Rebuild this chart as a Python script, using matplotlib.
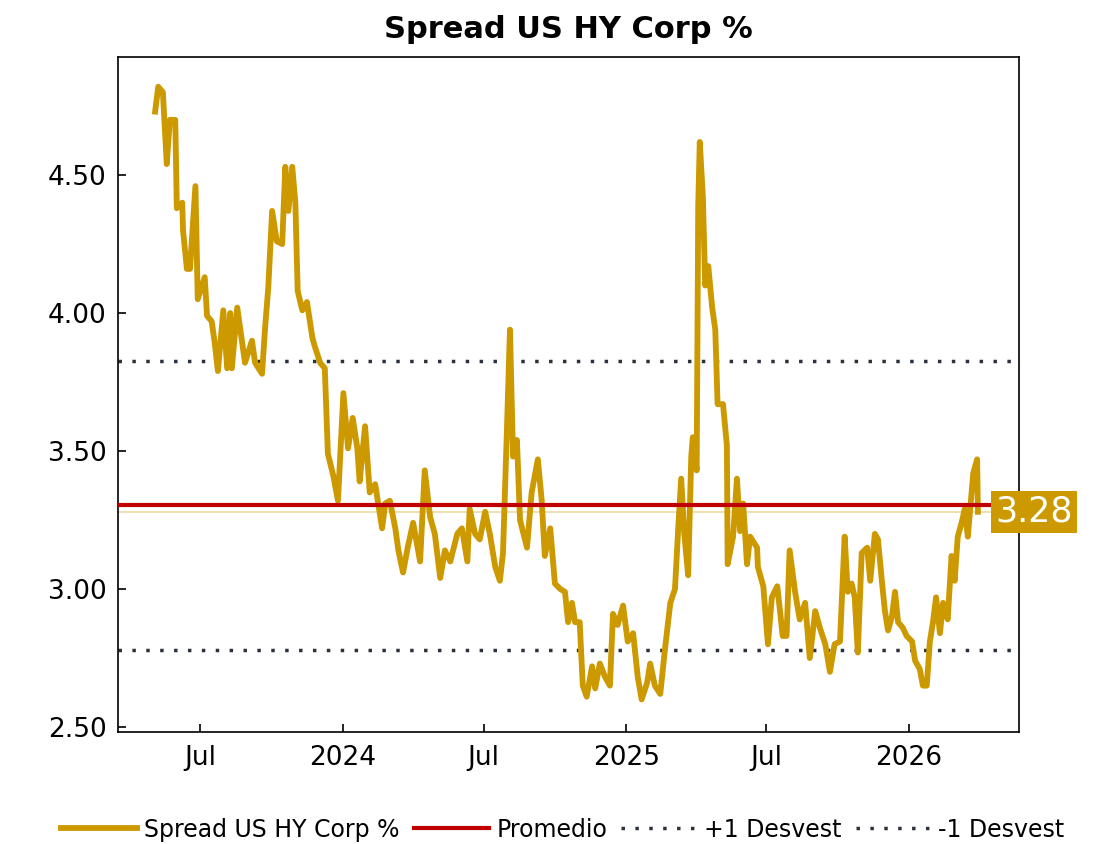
import matplotlib
matplotlib.use("Agg")
import matplotlib.pyplot as plt
import matplotlib.dates as mdates
import pandas as pd

# spread readings (date, %)
dates = [
    "2023-05-04", "2023-05-08", "2023-05-14", "2023-05-19", "2023-05-23", "2023-05-30",
    "2023-06-01", "2023-06-08", "2023-06-09", "2023-06-14", "2023-06-18", "2023-06-25",
    "2023-06-28", "2023-07-07", "2023-07-10", "2023-07-16", "2023-07-20", "2023-07-24",
    "2023-07-31", "2023-08-05", "2023-08-09", "2023-08-11", "2023-08-18", "2023-08-24",
    "2023-08-28", "2023-09-06", "2023-09-10", "2023-09-19", "2023-09-23", "2023-09-27",
    "2023-10-02", "2023-10-08", "2023-10-15", "2023-10-19", "2023-10-23", "2023-10-28",
    "2023-11-01", "2023-11-04", "2023-11-10", "2023-11-16", "2023-11-23", "2023-11-26",
    "2023-12-03", "2023-12-09", "2023-12-13", "2023-12-20", "2023-12-26", "2024-01-02",
    "2024-01-08", "2024-01-14", "2024-01-20", "2024-01-23", "2024-01-30", "2024-02-05",
    "2024-02-12", "2024-02-21", "2024-02-25", "2024-03-02", "2024-03-09", "2024-03-13",
    "2024-03-19", "2024-03-25", "2024-04-01", "2024-04-10", "2024-04-16", "2024-04-23",
    "2024-04-29", "2024-05-06", "2024-05-12", "2024-05-19", "2024-05-28", "2024-06-03",
    "2024-06-10", "2024-06-13", "2024-06-20", "2024-06-26", "2024-07-03", "2024-07-09",
    "2024-07-16", "2024-07-22", "2024-07-26", "2024-07-31", "2024-08-04", "2024-08-08",
    "2024-08-13", "2024-08-17", "2024-08-26", "2024-09-01", "2024-09-09", "2024-09-14",
    "2024-09-18", "2024-09-25", "2024-10-01", "2024-10-08", "2024-10-14", "2024-10-18",
    "2024-10-23", "2024-10-27", "2024-11-02", "2024-11-06", "2024-11-11", "2024-11-18",
    "2024-11-22", "2024-11-28", "2024-12-05", "2024-12-11", "2024-12-15", "2024-12-21",
    "2024-12-28", "2025-01-03", "2025-01-10", "2025-01-16", "2025-01-21", "2025-01-28",
    "2025-02-01", "2025-02-07", "2025-02-14", "2025-02-20", "2025-02-27", "2025-03-05",
    "2025-03-09", "2025-03-13", "2025-03-17", "2025-03-22", "2025-03-26", "2025-03-28",
    "2025-04-02", "2025-04-04", "2025-04-06", "2025-04-10", "2025-04-13", "2025-04-17",
    "2025-04-22", "2025-04-26", "2025-04-29", "2025-05-06", "2025-05-11", "2025-05-12",
    "2025-05-19", "2025-05-24", "2025-05-28", "2025-06-01", "2025-06-06", "2025-06-10",
    "2025-06-19", "2025-06-20", "2025-06-27", "2025-07-03", "2025-07-08", "2025-07-15",
    "2025-07-19", "2025-07-22", "2025-07-27", "2025-07-31", "2025-08-07", "2025-08-13",
    "2025-08-20", "2025-08-26", "2025-09-02", "2025-09-08", "2025-09-15", "2025-09-21",
    "2025-09-27", "2025-10-04", "2025-10-10", "2025-10-14", "2025-10-19", "2025-10-23",
    "2025-10-27", "2025-11-01", "2025-11-08", "2025-11-12", "2025-11-18", "2025-11-22",
    "2025-11-27", "2025-12-01", "2025-12-05", "2025-12-10", "2025-12-14", "2025-12-18",
    "2025-12-24", "2025-12-29", "2026-01-05", "2026-01-09", "2026-01-15", "2026-01-19",
    "2026-01-24", "2026-01-28", "2026-02-01", "2026-02-05", "2026-02-10", "2026-02-14",
    "2026-02-20", "2026-02-25", "2026-03-01", "2026-03-05", "2026-03-10", "2026-03-14",
    "2026-03-18", "2026-03-25", "2026-03-30", "2026-03-31",
]
spread = [
    4.73, 4.82, 4.80, 4.54, 4.70, 4.70,
    4.38, 4.40, 4.30, 4.16, 4.16, 4.46,
    4.05, 4.13, 3.99, 3.97, 3.89, 3.79,
    4.01, 3.80, 4.00, 3.80, 4.02, 3.90,
    3.82, 3.90, 3.82, 3.78, 3.95, 4.09,
    4.37, 4.26, 4.25, 4.53, 4.37, 4.53,
    4.40, 4.08, 4.01, 4.04, 3.91, 3.88,
    3.82, 3.80, 3.49, 3.41, 3.32, 3.71,
    3.51, 3.62, 3.51, 3.39, 3.59, 3.35,
    3.38, 3.22, 3.31, 3.32, 3.22, 3.14,
    3.06, 3.15, 3.24, 3.10, 3.43, 3.26,
    3.20, 3.04, 3.14, 3.10, 3.20, 3.22,
    3.10, 3.29, 3.20, 3.18, 3.28, 3.20,
    3.08, 3.03, 3.13, 3.57, 3.94, 3.48,
    3.54, 3.25, 3.15, 3.35, 3.47, 3.32,
    3.12, 3.22, 3.02, 3.00, 2.99, 2.88,
    2.95, 2.88, 2.88, 2.65, 2.61, 2.72,
    2.64, 2.73, 2.68, 2.65, 2.91, 2.87,
    2.94, 2.81, 2.84, 2.68, 2.60, 2.66,
    2.73, 2.65, 2.62, 2.78, 2.95, 3.00,
    3.21, 3.40, 3.20, 3.05, 3.48, 3.55,
    3.43, 4.39, 4.62, 4.42, 4.10, 4.17,
    4.02, 3.94, 3.67, 3.67, 3.52, 3.09,
    3.19, 3.40, 3.21, 3.31, 3.09, 3.19,
    3.15, 3.08, 3.01, 2.80, 2.97, 3.01,
    2.91, 2.83, 2.83, 3.14, 2.99, 2.89,
    2.95, 2.75, 2.92, 2.86, 2.80, 2.70,
    2.80, 2.81, 3.19, 2.99, 3.02, 2.97,
    2.77, 3.13, 3.15, 3.03, 3.20, 3.18,
    3.03, 2.92, 2.85, 2.90, 2.99, 2.88,
    2.86, 2.83, 2.81, 2.74, 2.71, 2.65,
    2.65, 2.81, 2.88, 2.97, 2.84, 2.95,
    2.89, 3.12, 3.03, 3.19, 3.24, 3.29,
    3.19, 3.42, 3.47, 3.28,
]

promedio = 3.305
mas_desvest = 3.825
menos_desvest = 2.78
ultimo = 3.28

gold = "#CC9900"
red = "#C00000"
dots = "#2B323C"

x = pd.to_datetime(dates)

fig = plt.figure(figsize=(11.19, 8.44), dpi=100)
ax = fig.add_axes([0.1054, 0.1327, 0.8052, 0.7998])

ax.plot(x, spread, color=gold, lw=4.2, label="Spread US HY Corp %", zorder=3)
ax.axhline(promedio, color=red, lw=3, label="Promedio", zorder=4)
ax.axhline(mas_desvest, color=dots, lw=2.5, ls=(0, (1, 3)), label="+1 Desvest", zorder=2)
ax.axhline(menos_desvest, color=dots, lw=2.5, ls=(0, (1, 3)), label="-1 Desvest", zorder=2)
ax.axhline(ultimo, color=gold, lw=1.2, alpha=0.35, zorder=1)

ax.set_xlim(pd.Timestamp("2023-03-17"), pd.Timestamp("2026-05-23"))
ax.set_ylim(2.482, 4.928)
ax.set_yticks([2.5, 3.0, 3.5, 4.0, 4.5])
ax.yaxis.set_major_formatter(matplotlib.ticker.FormatStrFormatter("%.2f"))
ax.xaxis.set_major_locator(mdates.MonthLocator(bymonth=[1, 7]))
ax.xaxis.set_major_formatter(matplotlib.ticker.FuncFormatter(
    lambda v, p: str(mdates.num2date(v).year) if mdates.num2date(v).month == 1 else "Jul"))
ax.tick_params(direction="in", length=6, width=1.2, labelsize=19, pad=8)
ax.tick_params(axis="x", pad=9)
for s in ax.spines.values():
    s.set_linewidth(1.2)

ax.set_title("Spread US HY Corp %", fontsize=22, fontweight="bold", pad=14)

ax.annotate(f"{ultimo:.2f}", xy=(1.0, ultimo), xycoords=("axes fraction", "data"),
            xytext=(-17, 0), textcoords="offset points", ha="left", va="center",
            fontsize=25, color="white",
            bbox=dict(boxstyle="square,pad=0.12", fc=gold, ec="none"), zorder=6)

fig.legend(loc="center", bbox_to_anchor=(0.503, 0.017), ncol=4, frameon=False,
           fontsize=17, handlelength=3.2, columnspacing=0.6, handletextpad=0.3,
           borderaxespad=0, borderpad=0)

fig.savefig("out.png", dpi=100)
plt.close()
